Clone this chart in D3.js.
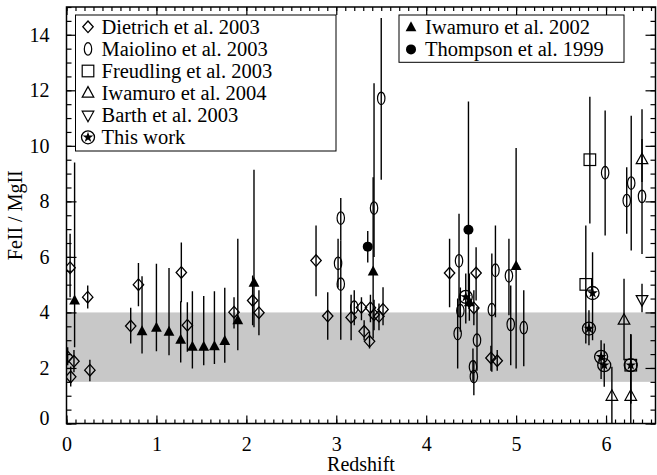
<!DOCTYPE html>
<html>
<head>
<meta charset="utf-8">
<script src="https://cdn.jsdelivr.net/npm/d3@7"></script>
<style>
  body { margin: 0; background: #fff; }
  svg { display: block; }
  svg text { font-family: "Liberation Serif", "Times New Roman", serif; }
</style>
</head>
<body>
<div id="chart"></div>
<script>
// Rows are [redshift, FeII/MgII, lower end of error bar, upper end of error bar].
var dietrich = [
  [0.013, 2.40, 2.10, 2.75], [0.04, 5.61, 4.55, 6.83], [0.047, 1.68, 1.33, 2.05],
  [0.083, 2.24, 1.85, 2.65], [0.236, 4.55, 4.14, 4.97], [0.26, 1.92, 1.52, 2.30],
  [0.714, 3.51, 2.88, 4.17], [0.80, 5.00, 4.22, 5.78], [1.277, 5.44, 4.37, 6.52],
  [1.344, 3.54, 2.58, 4.37], [1.863, 4.01, 3.42, 4.55], [2.07, 4.43, 3.54, 5.33],
  [2.14, 3.99, 3.18, 4.80], [2.775, 5.87, 4.58, 7.13], [2.905, 3.87, 3.02, 4.73],
  [3.165, 3.82, 3.00, 4.64], [3.28, 4.18, 3.72, 4.55], [3.31, 3.32, 3.00, 3.72],
  [3.37, 2.96, 2.70, 3.30], [3.38, 4.17, 3.65, 4.64], [3.42, 3.92, 3.36, 4.46],
  [3.475, 3.86, 3.36, 4.32], [3.52, 4.11, 3.54, 4.91], [4.26, 5.42, 4.19, 6.65],
  [4.53, 4.16, 3.54, 4.80], [4.555, 5.42, 4.43, 6.35], [4.72, 2.36, 1.90, 2.80],
  [4.79, 2.26, 1.90, 2.65]
];
var maiolino = [
  [3.02, 5.77, 4.90, 6.65], [3.05, 7.40, 6.60, 8.12], [3.05, 5.02, 3.02, 6.60],
  [3.20, 4.19, 3.54, 4.80], [3.42, 7.76, 6.00, 12.25], [3.50, 11.71, 8.78, 14.6],
  [4.35, 3.24, 1.98, 4.50], [4.365, 5.86, 3.83, 7.55], [4.38, 4.06, 3.30, 4.90],
  [4.52, 2.04, 1.50, 2.70], [4.53, 1.69, 1.02, 2.28], [4.565, 3.00, 1.90, 4.20],
  [4.73, 4.10, 1.86, 6.12], [4.77, 5.52, 3.83, 7.13], [4.92, 5.32, 3.90, 6.65],
  [4.94, 3.57, 2.10, 4.97], [5.085, 3.45, 2.06, 4.80], [5.99, 9.03, 6.77, 11.27],
  [6.23, 8.03, 6.83, 9.23], [6.28, 8.66, 6.23, 11.08], [6.40, 8.18, 6.10, 11.32]
];
var freudling = [
  [5.775, 5.01, 2.88, 7.13], [5.82, 9.50, 7.20, 11.77], [6.275, 2.10, 0.72, 3.21]
];
var iwamuro2004 = [
  [6.065, 0.98, -0.50, 2.04], [6.20, 3.72, 2.28, 5.21], [6.275, 0.98, -0.50, 3.20],
  [6.40, 9.50, 8.70, 10.25]
];
var barth = [
  [6.40, 4.46, 4.01, 5.03]
];
var thisWork = [
  [4.44, 4.56, 3.60, 5.40], [5.81, 3.42, 2.82, 4.08], [5.85, 4.70, 3.00, 6.17],
  [5.945, 2.40, 1.60, 3.00], [5.98, 2.10, 1.32, 2.88], [6.275, 2.10, 0.72, 3.21]
];
var iwamuro2002 = [
  [0.09, 4.43, 2.75, 9.40], [0.84, 3.32, 2.52, 5.30], [1.00, 3.45, 2.60, 5.75],
  [1.14, 3.30, 2.46, 5.60], [1.27, 3.02, 2.20, 4.40], [1.40, 2.76, 1.98, 4.76],
  [1.526, 2.76, 2.10, 4.59], [1.645, 2.78, 2.14, 4.76], [1.76, 2.97, 2.19, 4.89],
  [1.905, 3.72, 2.64, 6.65], [2.085, 5.07, 3.47, 9.14], [3.41, 5.47, 3.06, 8.87],
  [4.48, 4.37, 3.70, 5.40], [5.00, 5.67, 1.98, 9.92]
];
var thompson = [
  [3.35, 6.37, 5.80, 6.93], [4.47, 6.98, 4.20, 11.60]
];

// Grey band of the local ratio range.
var band = [1.5, 4];

var xTicks = [0, 1, 2, 3, 4, 5, 6],
    yTicks = [0, 2, 4, 6, 8, 10, 12, 14];

var legendLeft = ["Dietrich et al. 2003", "Maiolino et al. 2003", "Freudling et al. 2003",
                  "Iwamuro et al. 2004", "Barth et al. 2003", "This work"];
var legendRight = ["Iwamuro et al. 2002", "Thompson et al. 1999"];

// Layout (note: "top" is taken by window.top, so use plot* names).
var width = 657, height = 475,
    plotLeft = 66.5, plotRight = 655.5, plotTop = 7, plotBottom = 423.5;

var serif = "'Liberation Serif', 'Times New Roman', serif";

var x = d3.scaleLinear().domain([0, 6.55]).range([plotLeft, plotRight]),
    y = d3.scaleLinear().domain([0, 15]).range([plotBottom, plotTop]);

var svg = d3.select("#chart").append("svg")
    .attr("width", width)
    .attr("height", height);

svg.append("defs").append("clipPath").attr("id", "plot")
  .append("rect")
    .attr("x", plotLeft).attr("y", plotTop)
    .attr("width", plotRight - plotLeft).attr("height", plotBottom - plotTop);

svg.append("rect")
    .attr("x", plotLeft)
    .attr("y", y(band[1]))
    .attr("width", plotRight - plotLeft)
    .attr("height", y(band[0]) - y(band[1]))
    .attr("fill", "#c8c8c8");

// Marker shapes, drawn around the origin.
var shapes = {
  diamond: function (g){
    g.append("path").attr("d", "M0,-5.8L5.2,0L0,5.8L-5.2,0Z")
      .attr("fill", "none").attr("stroke", "#000").attr("stroke-width", 1.3);
  },
  ellipse: function (g){
    g.append("ellipse").attr("rx", 3.7).attr("ry", 6.3)
      .attr("fill", "none").attr("stroke", "#000").attr("stroke-width", 1.2);
  },
  square: function (g){
    g.append("rect").attr("x", -5.8).attr("y", -5.8).attr("width", 11.6).attr("height", 11.6)
      .attr("fill", "none").attr("stroke", "#000").attr("stroke-width", 1.2);
  },
  triUp: function (g){
    g.append("path").attr("d", "M0,-6.5L5.8,4L-5.8,4Z")
      .attr("fill", "none").attr("stroke", "#000").attr("stroke-width", 1.2);
  },
  triDown: function (g){
    g.append("path").attr("d", "M0,6.5L5.8,-4L-5.8,-4Z")
      .attr("fill", "none").attr("stroke", "#000").attr("stroke-width", 1.2);
  },
  star: function (g){
    g.append("circle").attr("r", 6.5)
      .attr("fill", "none").attr("stroke", "#000").attr("stroke-width", 1.3);
    g.append("path").attr("d", d3.symbol(d3.symbolStar, 36)())
      .attr("fill", "#000");
  },
  filledTri: function (g){
    g.append("path").attr("d", "M0,-6L5.4,4L-5.4,4Z").attr("fill", "#000");
  },
  filledCircle: function (g){
    g.append("circle").attr("r", 5).attr("fill", "#000");
  }
};

var series = [
  { rows: dietrich, shape: "diamond" },
  { rows: maiolino, shape: "ellipse" },
  { rows: freudling, shape: "square" },
  { rows: iwamuro2004, shape: "triUp" },
  { rows: barth, shape: "triDown" },
  { rows: iwamuro2002, shape: "filledTri" },
  { rows: thompson, shape: "filledCircle" },
  { rows: thisWork, shape: "star" }
];

var plotG = svg.append("g").attr("clip-path", "url(#plot)");

// Error bars first, then markers on top.
series.forEach(function (s){
  plotG.append("g").selectAll("line")
    .data(s.rows)
    .enter().append("line")
      .attr("x1", function (d){ return x(d[0]); })
      .attr("x2", function (d){ return x(d[0]); })
      .attr("y1", function (d){ return y(d[2]); })
      .attr("y2", function (d){ return y(d[3]); })
      .attr("stroke", "#000")
      .attr("stroke-width", 1.4);
});

series.forEach(function (s){
  plotG.append("g").selectAll("g")
    .data(s.rows)
    .enter().append("g")
      .attr("transform", function (d){ return "translate(" + x(d[0]) + "," + y(d[1]) + ")"; })
      .each(function (){ shapes[s.shape](d3.select(this)); });
});

// Axes with inward ticks on all four sides.
function minorTicks(from, to, step){
  return d3.range(Math.round((to - from) / step) + 1).map(function (i){ return +(from + i * step).toFixed(3); });
}
var xMinor = minorTicks(0, 6.5, 0.1),
    yMinor = minorTicks(0, 15, 0.5);

function styleAxis(g){
  g.attr("font-family", serif).attr("font-size", 20);
  g.select(".domain").remove();
  g.selectAll("line").attr("stroke", "#000").attr("stroke-width", 1.2);
  g.selectAll("text").attr("fill", "#000").style("font-family", serif).style("font-size", "20px");
}

svg.append("g").attr("transform", "translate(0," + plotBottom + ")")
  .call(d3.axisBottom(x).tickValues(xMinor).tickSize(-4).tickFormat(""))
  .call(styleAxis);
svg.append("g").attr("transform", "translate(0," + plotBottom + ")")
  .call(d3.axisBottom(x).tickValues(xTicks).tickSize(-8).tickPadding(13).tickFormat(d3.format("d")))
  .call(styleAxis);
svg.append("g").attr("transform", "translate(0," + plotTop + ")")
  .call(d3.axisTop(x).tickValues(xMinor).tickSize(-4).tickFormat(""))
  .call(styleAxis);
svg.append("g").attr("transform", "translate(0," + plotTop + ")")
  .call(d3.axisTop(x).tickValues(xTicks).tickSize(-8).tickFormat(""))
  .call(styleAxis);

svg.append("g").attr("transform", "translate(" + plotLeft + ",0)")
  .call(d3.axisLeft(y).tickValues(yMinor).tickSize(-5).tickFormat(""))
  .call(styleAxis);
var yAxisG = svg.append("g").attr("transform", "translate(" + plotLeft + ",0)")
  .call(d3.axisLeft(y).tickValues(yTicks).tickSize(-10).tickPadding(17).tickFormat(d3.format("d")))
  .call(styleAxis);
// The zero label sits a little above the corner.
yAxisG.selectAll(".tick text").filter(function (d){ return d === 0; }).attr("dy", "0.05em");
svg.append("g").attr("transform", "translate(" + plotRight + ",0)")
  .call(d3.axisRight(y).tickValues(yMinor).tickSize(-5).tickFormat(""))
  .call(styleAxis);
svg.append("g").attr("transform", "translate(" + plotRight + ",0)")
  .call(d3.axisRight(y).tickValues(yTicks).tickSize(-10).tickFormat(""))
  .call(styleAxis);

svg.append("rect")
    .attr("x", plotLeft).attr("y", plotTop)
    .attr("width", plotRight - plotLeft).attr("height", plotBottom - plotTop)
    .attr("fill", "none").attr("stroke", "#000").attr("stroke-width", 1.5);

// Axis titles.
svg.append("text")
    .attr("x", (plotLeft + plotRight) / 2)
    .attr("y", 471)
    .attr("text-anchor", "middle")
    .attr("font-size", 20)
    .text("Redshift");
svg.append("text")
    .attr("transform", "translate(22," + ((plotTop + plotBottom) / 2) + ") rotate(-90)")
    .attr("text-anchor", "middle")
    .attr("font-size", 20)
    .text("FeII / MgII");

// Legends.
function legend(labels, shapeNames, bx, by, bw, bh, sx, tx, rowY0){
  var g = svg.append("g");
  g.append("rect")
      .attr("x", bx).attr("y", by).attr("width", bw).attr("height", bh)
      .attr("fill", "#fff").attr("stroke", "#000").attr("stroke-width", 1);
  labels.forEach(function (label, i){
    var cy = rowY0 + i * 22.1;
    var item = g.append("g").attr("transform", "translate(" + sx + "," + cy + ")");
    shapes[shapeNames[i]](item);
    g.append("text")
        .attr("x", tx).attr("y", cy)
        .attr("dy", "0.33em")
        .attr("font-size", 20.5)
        .text(label);
  });
}

legend(legendLeft, ["diamond", "ellipse", "square", "triUp", "triDown", "star"],
       75.5, 15, 260.5, 136, 88, 101.5, 26.8);
legend(legendRight, ["filledTri", "filledCircle"],
       399, 15, 225, 47.3, 411, 425, 27.3);
</script>
</body>
</html>
